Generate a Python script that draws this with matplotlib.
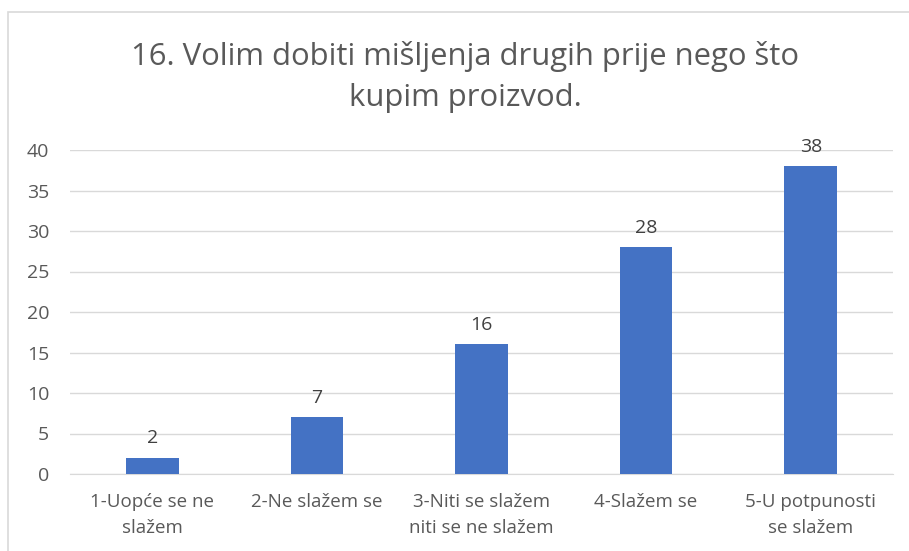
import matplotlib.pyplot as plt
from matplotlib.patches import Rectangle

categories = ["1-Uopće se ne\nslažem", "2-Ne slažem se", "3-Niti se slažem\nniti se ne slažem",
              "4-Slažem se", "5-U potpunosti\nse slažem"]
values = [2, 7, 16, 28, 38]
yticks = [0, 5, 10, 15, 20, 25, 30, 35, 40]
title = "16. Volim dobiti mišljenja drugih prije nego što\nkupim proizvod."

plt.rcParams["font.family"] = ["Open Sans", "DejaVu Sans"]
text_color = "#595959"

W, H = 909, 551
fig = plt.figure(figsize=(W / 100, H / 100), dpi=100)

# chart frame (cut off at right and bottom like the screenshot)
fig.patches.append(Rectangle((8 / W, -0.05), 1.1, 1 - 12 / H + 0.05, transform=fig.transFigure,
                             fill=False, edgecolor="#D9D9D9", linewidth=1.2))

ax = fig.add_axes([70 / W, 1 - 474 / H, (893 - 70) / W, (474 - 150) / H])
x = range(len(values))
bars = ax.bar(x, values, width=0.32, color="#4472C4", zorder=3)
for xi, v in zip(x, values):
    ax.text(xi, v + 1.3, str(v), ha="center", va="bottom", fontsize=14, color="#404040")

ax.set_ylim(0, 40)
ax.set_xlim(-0.5, len(values) - 0.5)
ax.set_yticks(yticks)
ax.yaxis.grid(True, color="#D9D9D9", linewidth=1, zorder=0)
ax.set_xticks(list(x))
ax.set_xticklabels(categories, fontsize=13.5, color=text_color, linespacing=1.55)
ax.tick_params(axis="y", labelsize=14, labelcolor=text_color, length=0, pad=15)
ax.tick_params(axis="x", length=0, pad=14)
for s in ["top", "right", "left"]:
    ax.spines[s].set_visible(False)
ax.spines["bottom"].set_color("#D9D9D9")

fig.text(465 / W, 1 - 77 / H, title, ha="center", va="center", fontsize=22.3,
         color=text_color, linespacing=1.45)

fig.savefig("out.png", dpi=100)
